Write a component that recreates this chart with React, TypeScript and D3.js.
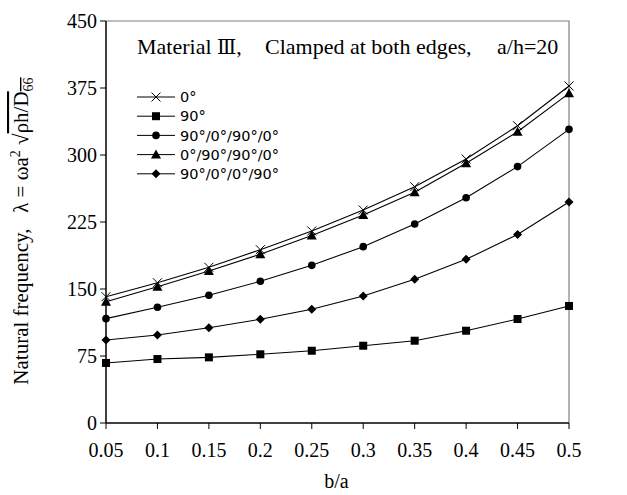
import React from "react";
import * as d3 from "d3";

// b/a ratios along the x axis
const ratios = [0.05, 0.1, 0.15, 0.2, 0.25, 0.3, 0.35, 0.4, 0.45, 0.5];
const yTicks = [0, 75, 150, 225, 300, 375, 450];

// Non-dimensional natural frequency for each lay-up
const ply0 = [141.4, 157.0, 174.3, 194.0, 215.0, 238.4, 264.5, 295.5, 332.8, 377.3];
const ply90 = [67.2, 71.6, 73.5, 76.9, 80.9, 86.5, 92.1, 103.3, 116.4, 131.0];
const ply90_0_90_0 = [116.8, 129.5, 143.0, 158.6, 176.5, 197.4, 222.8, 252.2, 287.0, 328.7];
const ply0_90_90_0 = [135.8, 152.6, 170.2, 189.0, 210.0, 232.8, 258.2, 290.7, 326.0, 369.0];
const ply90_0_0_90 = [92.9, 98.5, 106.7, 116.1, 127.3, 142.2, 160.8, 183.2, 211.0, 247.4];

const seriesNames = ["0°", "90°", "90°/0°/90°/0°", "0°/90°/90°/0°", "90°/0°/0°/90°"];
const seriesValues = [ply0, ply90, ply90_0_90_0, ply0_90_90_0, ply90_0_0_90];
const seriesMarkers = ["times", "square", "circle", "triangle", "diamond"];

const W = 627;
const H = 495;
const left = 106;
const right = 569;
const top = 21;
const bottom = 423;

const serif = "'Liberation Serif', 'Times New Roman', serif";
const sans = "'DejaVu Sans', Verdana, sans-serif";

function Marker({ kind, x, y }: { kind: string; x: number; y: number }) {
  if (kind === "times") {
    const r = 4.5;
    return (
      <path
        d={`M${x - r},${y - r}L${x + r},${y + r}M${x - r},${y + r}L${x + r},${y - r}`}
        stroke="#000"
        strokeWidth={1}
        fill="none"
      />
    );
  }
  if (kind === "square") {
    return <rect x={x - 4} y={y - 4} width={8} height={8} fill="#000" />;
  }
  if (kind === "circle") {
    return <circle cx={x} cy={y} r={3.8} fill="#000" />;
  }
  if (kind === "triangle") {
    return <path d={`M${x},${y - 5}L${x + 5},${y + 4}L${x - 5},${y + 4}Z`} fill="#000" />;
  }
  return <path d={`M${x},${y - 4.5}L${x + 4.5},${y}L${x},${y + 4.5}L${x - 4.5},${y}Z`} fill="#000" />;
}

export default function App() {
  const xs = d3.scaleLinear().domain([0.05, 0.5]).range([left, right]);
  const ys = d3.scaleLinear().domain([0, 450]).range([bottom, top]);
  const line = d3
    .line<number>()
    .x((_, i) => xs(ratios[i]))
    .y((d) => ys(d));

  const legendX = 137;
  const legendY0 = 97;
  const legendStep = 19.2;

  return (
    <svg
      width={W}
      height={H}
      style={{ position: "fixed", left: 0, top: 0, background: "#fff" }}
    >
      <rect x={0} y={0} width={W} height={H} fill="#fff" />

      {/* plot area frame */}
      <path
        d={`M${left},${top}H${right}V${bottom}`}
        stroke="#808080"
        strokeWidth={1.2}
        fill="none"
      />

      {/* axes */}
      <line x1={left} y1={top} x2={left} y2={bottom} stroke="#000" strokeWidth={1.5} />
      <line x1={left} y1={bottom} x2={right} y2={bottom} stroke="#000" strokeWidth={1.5} />

      {yTicks.map((t) => (
        <g key={`y${t}`}>
          <line x1={left - 6} x2={left} y1={ys(t)} y2={ys(t)} stroke="#000" strokeWidth={1} />
          <text
            x={left - 9}
            y={ys(t)}
            dy="0.35em"
            textAnchor="end"
            fontFamily={serif}
            fontSize={20}
          >
            {t}
          </text>
        </g>
      ))}

      {ratios.map((r) => (
        <g key={`x${r}`}>
          <line x1={xs(r)} x2={xs(r)} y1={bottom} y2={bottom + 6} stroke="#000" strokeWidth={1} />
          <text
            x={xs(r)}
            y={bottom + 34}
            textAnchor="middle"
            fontFamily={serif}
            fontSize={20}
          >
            {String(r)}
          </text>
        </g>
      ))}

      {/* series */}
      {seriesValues.map((vals, si) => (
        <g key={seriesNames[si]}>
          <path d={line(vals) || ""} stroke="#000" strokeWidth={1.1} fill="none" />
          {vals.map((v, i) => (
            <Marker key={i} kind={seriesMarkers[si]} x={xs(ratios[i])} y={ys(v)} />
          ))}
        </g>
      ))}

      {/* legend */}
      {seriesNames.map((name, i) => {
        const y = legendY0 + i * legendStep;
        return (
          <g key={`lg${i}`}>
            <line x1={legendX} x2={legendX + 38} y1={y} y2={y} stroke="#000" strokeWidth={1} />
            <Marker kind={seriesMarkers[i]} x={legendX + 19} y={y} />
            <text x={legendX + 43} y={y} dy="0.36em" fontFamily={sans} fontSize={14.5}>
              {name}
            </text>
          </g>
        );
      })}

      {/* title */}
      <text y={54} fontFamily={serif} fontSize={22}>
        <tspan x={137}>Material </tspan>
        <tspan fontFamily="'DejaVu Serif', serif" fontSize={20}>Ⅲ</tspan>
        <tspan>,</tspan>
        <tspan x={265}>Clamped at both edges,</tspan>
        <tspan x={497}>a/h=20</tspan>
      </text>

      {/* axis titles */}
      <text x={(left + right) / 2 - 1} y={488} textAnchor="middle" fontFamily={serif} fontSize={20}>
        b/a
      </text>
      <text
        transform="translate(28,231) rotate(-90)"
        textAnchor="middle"
        fontFamily={serif}
        fontSize={21}
        style={{ whiteSpace: "pre" }}
      >
        <tspan>Natural frequency,   λ = ωa</tspan>
        <tspan fontSize={14} dy={-8}>2</tspan>
        <tspan dy={8}> √</tspan>
        <tspan style={{ textDecoration: "overline" }}>ρh/D</tspan>
        <tspan fontSize={14} dy={5} style={{ textDecoration: "overline" }}>66</tspan>
      </text>
    </svg>
  );
}
